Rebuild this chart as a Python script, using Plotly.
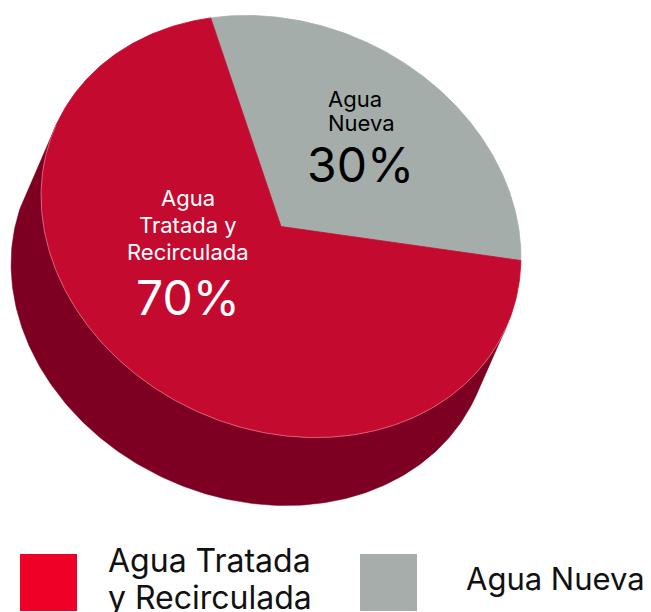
import numpy as np
import plotly.graph_objects as go

# ---- data ----
categories = ["Agua Tratada y Recirculada", "Agua Nueva"]
values = [70, 30]
slice_text = [["Agua", "Tratada y", "Recirculada"], ["Agua", "Nueva"]]
pct_text = [f"{v}%" for v in values]
legend_text = [["Agua Tratada", "y Recirculada"], ["Agua Nueva"]]

# ---- style ----
top_colors = ["#C40A2F", "#A5ADAA"]
side_colors = ["#7D0023", "#6E7472"]
legend_colors = ["#EE0027", "#A6ADAA"]
label_colors = ["white", "black"]
FONT = "Inter, 'Noto Sans', sans-serif"

W, H = 651, 612
CX, CY = 281.0, 226.5          # centre of top face (pixels)
RA, RB = 246.7, 203.1          # semi-axes of top face
TILT = np.deg2rad(24.2)        # rotation of major axis
DEPTH = np.array([-30.0, 68.0])  # extrusion of the side
START = -127.35                # angle where the first drawn slice starts (deg)
ORDER = [1, 0]                 # draw order (clockwise)

e1 = np.array([np.cos(TILT), np.sin(TILT)])
e2 = np.array([-np.sin(TILT), np.cos(TILT)])


def ell(phi_deg):
    p = np.deg2rad(np.asarray(phi_deg, dtype=float))
    x = CX + RA * np.cos(p) * e1[0] + RB * np.sin(p) * e2[0]
    y = CY + RA * np.cos(p) * e1[1] + RB * np.sin(p) * e2[1]
    return x, y


total = float(sum(values))
ranges = {}
a0 = START
for i in ORDER:
    span = 360.0 * values[i] / total
    ranges[i] = (a0, a0 + span)
    a0 += span

fig = go.Figure()

# side (visible near half: phi in [0, 180] modulo 360)
for i in ORDER:
    s, e = ranges[i]
    for k in (-360, 0, 360):
        lo, hi = max(s + k, 0.0), min(e + k, 180.0)
        if hi > lo:
            ph = np.linspace(lo, hi, 200)
            x1, y1 = ell(ph)
            x2, y2 = x1[::-1] + DEPTH[0], y1[::-1] + DEPTH[1]
            fig.add_trace(go.Scatter(
                x=np.concatenate([x1, x2, x1[:1]]),
                y=np.concatenate([y1, y2, y1[:1]]),
                mode="lines", fill="toself", fillcolor=side_colors[i],
                line=dict(color=side_colors[i], width=0.5),
                hoverinfo="skip", showlegend=False))

# top face slices
for i in ORDER:
    s, e = ranges[i]
    ph = np.linspace(s, e, 300)
    x, y = ell(ph)
    fig.add_trace(go.Scatter(
        x=np.concatenate([[CX], x, [CX]]),
        y=np.concatenate([[CY], y, [CY]]),
        mode="lines", fill="toself", fillcolor=top_colors[i],
        line=dict(color=top_colors[i], width=0.8),
        name=categories[i], hoverinfo="skip", showlegend=False))

# faint rim line on the near edge of the top face
ph = np.linspace(0, 180, 300)
x, y = ell(ph)
fig.add_trace(go.Scatter(x=x, y=y, mode="lines",
                         line=dict(color="rgba(240,150,170,0.7)", width=0.8),
                         hoverinfo="skip", showlegend=False))

# slice labels (one annotation per line for exact line pitch)
label_anchor = {0: (188, 198, "center"), 1: (326, 99, "left")}
label_pitch = {0: 27, 1: 23.5}
pct_pos = {0: (188, 297), 1: (360, 164)}
for i in range(len(values)):
    lx, ly, la = label_anchor[i]
    for j, line in enumerate(slice_text[i]):
        fig.add_annotation(x=lx, y=ly + j * label_pitch[i], text=line,
                           showarrow=False, xanchor=la, yanchor="middle",
                           font=dict(family=FONT, size=22, color=label_colors[i]))
    fig.add_annotation(x=pct_pos[i][0], y=pct_pos[i][1], text=pct_text[i],
                       showarrow=False, xanchor="center", yanchor="middle",
                       font=dict(family=FONT, size=48, color=label_colors[i]))

# legend
legend_box_x = [20, 360]
legend_text_x = [106, 464]
legend_text_y = [[560, 597], [578.5]]
legend_font_size = [32, 31]
BOX = 57
BOX_TOP = 554
for i in range(len(values)):
    fig.add_shape(type="rect", x0=legend_box_x[i], x1=legend_box_x[i] + BOX,
                  y0=BOX_TOP, y1=BOX_TOP + BOX, xref="x", yref="y",
                  fillcolor=legend_colors[i], line=dict(width=0), layer="above")
    for j, line in enumerate(legend_text[i]):
        fig.add_annotation(x=legend_text_x[i], y=legend_text_y[i][j], text=line,
                           showarrow=False, xanchor="left", yanchor="middle", align="left",
                           font=dict(family=FONT, size=legend_font_size[i], color="#111111"))

fig.update_layout(
    width=W, height=H, margin=dict(l=0, r=0, t=0, b=0),
    paper_bgcolor="white", plot_bgcolor="white",
    xaxis=dict(range=[0, W], visible=False, fixedrange=True),
    yaxis=dict(range=[H, 0], visible=False, fixedrange=True),
    showlegend=False,
)

fig.write_html("out.html", config={"displayModeBar": False},
               post_script="document.body.style.margin='0px';")
